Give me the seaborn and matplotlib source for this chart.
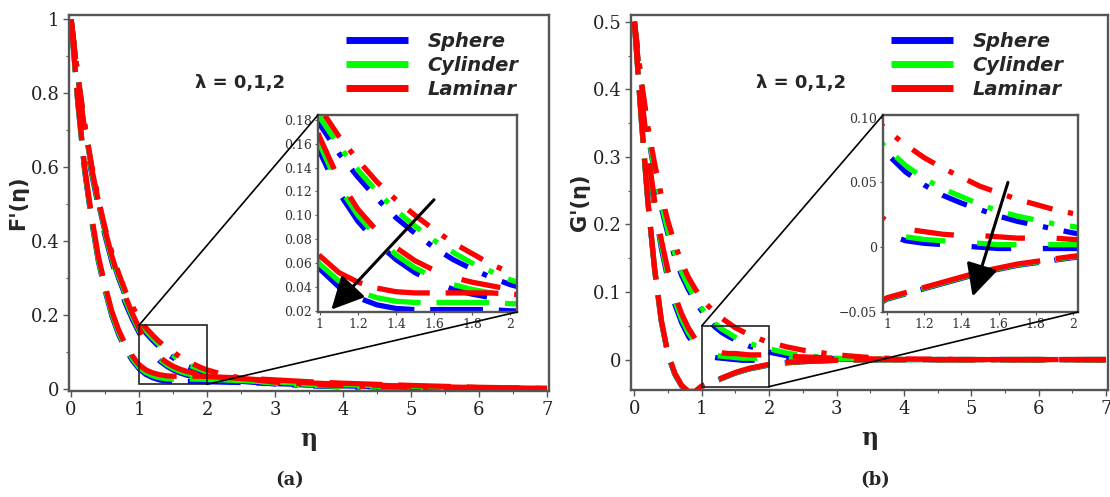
import matplotlib
matplotlib.use("Agg")
import matplotlib.pyplot as plt
import numpy as np
import pandas as pd
import seaborn as sns
from matplotlib.patches import Rectangle, ConnectionPatch
from matplotlib.lines import Line2D
from matplotlib.font_manager import FontProperties

# ---------------- data ----------------
eta = [0, 0.1, 0.2, 0.3, 0.4, 0.5, 0.6, 0.7, 0.8, 0.9, 1.0, 1.1, 1.2, 1.3, 1.4, 1.5,
       1.6, 1.7, 1.8, 1.9, 2.0, 2.25, 2.5, 3.0, 3.5, 4.0, 5.0, 6.0, 7.0]

models = ["Sphere", "Cylinder", "Laminar"]
lambdas = ["0", "1", "2"]

# panel (a): F'(eta)
Fp_sphere_lam0 = [1.0, 0.845, 0.712, 0.600, 0.505, 0.425, 0.357, 0.300, 0.252, 0.211, 0.176, 0.152, 0.132, 0.114, 0.098, 0.085, 0.073, 0.063, 0.055, 0.048, 0.042, 0.031, 0.023, 0.014, 0.009, 0.006, 0.003, 0.002, 0.001]
Fp_cylinder_lam0 = [1.0, 0.846, 0.714, 0.604, 0.510, 0.430, 0.363, 0.306, 0.258, 0.217, 0.182, 0.158, 0.138, 0.120, 0.104, 0.091, 0.079, 0.069, 0.060, 0.053, 0.046, 0.034, 0.026, 0.016, 0.011, 0.007, 0.004, 0.002, 0.001]
Fp_laminar_lam0 = [1.0, 0.847, 0.717, 0.608, 0.515, 0.436, 0.369, 0.313, 0.265, 0.225, 0.190, 0.166, 0.146, 0.128, 0.113, 0.100, 0.088, 0.077, 0.068, 0.059, 0.052, 0.039, 0.030, 0.019, 0.013, 0.009, 0.005, 0.003, 0.001]

Fp_sphere_lam1 = [1.0, 0.835, 0.690, 0.585, 0.495, 0.415, 0.345, 0.285, 0.232, 0.190, 0.153, 0.119, 0.095, 0.077, 0.063, 0.052, 0.044, 0.038, 0.034, 0.031, 0.029, 0.025, 0.021, 0.015, 0.011, 0.008, 0.004, 0.002, 0.001]
Fp_cylinder_lam1 = [1.0, 0.837, 0.695, 0.592, 0.502, 0.422, 0.352, 0.292, 0.240, 0.197, 0.159, 0.124, 0.100, 0.082, 0.067, 0.056, 0.048, 0.042, 0.038, 0.035, 0.033, 0.028, 0.024, 0.018, 0.013, 0.010, 0.006, 0.003, 0.001]
Fp_laminar_lam1 = [1.0, 0.840, 0.700, 0.600, 0.510, 0.430, 0.360, 0.300, 0.250, 0.205, 0.165, 0.130, 0.105, 0.087, 0.073, 0.062, 0.054, 0.048, 0.044, 0.041, 0.038, 0.033, 0.029, 0.022, 0.017, 0.013, 0.008, 0.004, 0.002]

Fp_sphere_lam2 = [1.0, 0.772, 0.590, 0.458, 0.347, 0.267, 0.198, 0.148, 0.108, 0.078, 0.055, 0.040, 0.031, 0.025, 0.022, 0.021, 0.021, 0.021, 0.021, 0.021, 0.020, 0.019, 0.018, 0.015, 0.012, 0.009, 0.005, 0.003, 0.001]
Fp_cylinder_lam2 = [1.0, 0.775, 0.595, 0.463, 0.352, 0.272, 0.203, 0.153, 0.113, 0.083, 0.059, 0.045, 0.036, 0.031, 0.028, 0.027, 0.027, 0.027, 0.027, 0.027, 0.026, 0.025, 0.023, 0.019, 0.015, 0.012, 0.007, 0.004, 0.001]
Fp_laminar_lam2 = [1.0, 0.780, 0.600, 0.470, 0.360, 0.280, 0.210, 0.160, 0.120, 0.090, 0.066, 0.052, 0.044, 0.039, 0.036, 0.035, 0.035, 0.035, 0.035, 0.035, 0.034, 0.032, 0.030, 0.025, 0.020, 0.016, 0.010, 0.005, 0.002]

# panel (b): G'(eta)
Gp_sphere_lam0 = [0.5, 0.410, 0.335, 0.275, 0.225, 0.185, 0.152, 0.125, 0.104, 0.087, 0.072, 0.058, 0.048, 0.040, 0.034, 0.029, 0.024, 0.020, 0.017, 0.014, 0.011, 0.006, 0.003, 0.001, 0.0, 0.0, 0.0, 0.0, 0.0]
Gp_cylinder_lam0 = [0.5, 0.412, 0.338, 0.279, 0.230, 0.190, 0.157, 0.130, 0.109, 0.091, 0.076, 0.063, 0.053, 0.045, 0.039, 0.033, 0.028, 0.024, 0.021, 0.018, 0.016, 0.010, 0.006, 0.002, 0.001, 0.0, 0.0, 0.0, 0.0]
Gp_laminar_lam0 = [0.5, 0.415, 0.345, 0.290, 0.243, 0.204, 0.171, 0.144, 0.122, 0.105, 0.090, 0.079, 0.069, 0.061, 0.054, 0.047, 0.042, 0.037, 0.033, 0.029, 0.026, 0.019, 0.014, 0.007, 0.003, 0.001, 0.0, 0.0, 0.0]

Gp_sphere_lam1 = [0.5, 0.390, 0.300, 0.225, 0.165, 0.118, 0.082, 0.055, 0.035, 0.020, 0.010, 0.005, 0.003, 0.002, 0.001, 0.0, -0.001, -0.001, -0.001, -0.001, -0.001, -0.001, -0.001, 0.0, 0.0, 0.0, 0.0, 0.0, 0.0]
Gp_cylinder_lam1 = [0.5, 0.392, 0.303, 0.229, 0.170, 0.123, 0.087, 0.060, 0.040, 0.025, 0.014, 0.008, 0.006, 0.005, 0.004, 0.003, 0.002, 0.002, 0.002, 0.002, 0.002, 0.001, 0.001, 0.0, 0.0, 0.0, 0.0, 0.0, 0.0]
Gp_laminar_lam1 = [0.5, 0.395, 0.307, 0.235, 0.177, 0.131, 0.095, 0.068, 0.047, 0.031, 0.020, 0.014, 0.012, 0.010, 0.009, 0.009, 0.008, 0.007, 0.007, 0.007, 0.006, 0.005, 0.004, 0.002, 0.001, 0.0, 0.0, 0.0, 0.0]

Gp_sphere_lam2 = [0.5, 0.358, 0.233, 0.133, 0.056, 0.006, -0.022, -0.039, -0.048, -0.048, -0.040, -0.036, -0.032, -0.028, -0.024, -0.020, -0.017, -0.014, -0.012, -0.010, -0.008, -0.005, -0.003, -0.001, 0.0, 0.0, 0.0, 0.0, 0.0]
Gp_cylinder_lam2 = [0.5, 0.359, 0.234, 0.134, 0.057, 0.007, -0.021, -0.0385, -0.0475, -0.0475, -0.0395, -0.0355, -0.0315, -0.0275, -0.0235, -0.0195, -0.0165, -0.0135, -0.0115, -0.0095, -0.0075, -0.0045, -0.003, -0.001, 0.0, 0.0, 0.0, 0.0, 0.0]
Gp_laminar_lam2 = [0.5, 0.360, 0.235, 0.135, 0.058, 0.008, -0.020, -0.038, -0.047, -0.047, -0.039, -0.035, -0.031, -0.027, -0.023, -0.019, -0.016, -0.013, -0.011, -0.009, -0.007, -0.004, -0.003, -0.001, 0.0, 0.0, 0.0, 0.0, 0.0]

main_xticks = [0, 1, 2, 3, 4, 5, 6, 7]
a_yticks = [0, 0.2, 0.4, 0.6, 0.8, 1.0]
a_yticklabels = ["0", "0.2", "0.4", "0.6", "0.8", "1"]
b_yticks = [0, 0.1, 0.2, 0.3, 0.4, 0.5]
b_yticklabels = ["0", "0.1", "0.2", "0.3", "0.4", "0.5"]
inset_xticks = [1, 1.2, 1.4, 1.6, 1.8, 2]
inset_xticklabels = ["1", "1.2", "1.4", "1.6", "1.8", "2"]
ia_yticks = [0.02, 0.04, 0.06, 0.08, 0.10, 0.12, 0.14, 0.16, 0.18]
ia_yticklabels = ["0.02", "0.04", "0.06", "0.08", "0.10", "0.12", "0.14", "0.16", "0.18"]
ib_yticks = [-0.05, 0, 0.05, 0.10]
ib_yticklabels = ["\u22120.05", "0", "0.05", "0.10"]

# ---------------- long-form table ----------------
series_a = {
    ("Sphere", "0"): Fp_sphere_lam0, ("Cylinder", "0"): Fp_cylinder_lam0, ("Laminar", "0"): Fp_laminar_lam0,
    ("Sphere", "1"): Fp_sphere_lam1, ("Cylinder", "1"): Fp_cylinder_lam1, ("Laminar", "1"): Fp_laminar_lam1,
    ("Sphere", "2"): Fp_sphere_lam2, ("Cylinder", "2"): Fp_cylinder_lam2, ("Laminar", "2"): Fp_laminar_lam2,
}
series_b = {
    ("Sphere", "0"): Gp_sphere_lam0, ("Cylinder", "0"): Gp_cylinder_lam0, ("Laminar", "0"): Gp_laminar_lam0,
    ("Sphere", "1"): Gp_sphere_lam1, ("Cylinder", "1"): Gp_cylinder_lam1, ("Laminar", "1"): Gp_laminar_lam1,
    ("Sphere", "2"): Gp_sphere_lam2, ("Cylinder", "2"): Gp_cylinder_lam2, ("Laminar", "2"): Gp_laminar_lam2,
}


def to_df(series):
    rows = []
    for (m, l), vals in series.items():
        for e, v in zip(eta, vals):
            rows.append({"eta": e, "val": v, "model": m, "lam": l})
    return pd.DataFrame(rows)


df_a = to_df(series_a)
df_b = to_df(series_b)

palette = {"Sphere": "#0000ff", "Cylinder": "#00ff00", "Laminar": "#ff0000"}
dash_map = {"0": (5.0, 3.0, 1.0, 3.0), "1": (7.5, 6.0), "2": (10.0, 3.0)}

# ---------------- style ----------------
sns.set_theme(style="ticks")
plt.rcParams["font.family"] = ["DejaVu Serif"]
spine_col = "#555555"
plt.rcParams["axes.edgecolor"] = spine_col
plt.rcParams["lines.solid_capstyle"] = "butt"
plt.rcParams["lines.dash_capstyle"] = "butt"

fig = plt.figure(figsize=(11.1, 4.97), dpi=100)
fig.patch.set_facecolor("white")

ax_a = fig.add_axes([0.0622, 0.2133, 0.4324, 0.7565])
ax_b = fig.add_axes([0.5685, 0.2153, 0.4297, 0.7545])
in_a = fig.add_axes([0.2865, 0.3722, 0.1793, 0.3964])
in_b = fig.add_axes([0.7955, 0.3722, 0.1757, 0.3964])

LW = 3.8


def draw(ax, df, lw):
    sns.lineplot(data=df, x="eta", y="val", hue="model", style="lam",
                 hue_order=models, style_order=lambdas, palette=palette,
                 dashes=dash_map, linewidth=lw, estimator=None, sort=False,
                 legend=False, ax=ax)
    ax.set_xlabel("")
    ax.set_ylabel("")


for ax in (ax_a, ax_b, in_a, in_b):
    for s in ax.spines.values():
        s.set_color(spine_col)
        s.set_linewidth(1.7)
    ax.set_facecolor("white")

draw(ax_a, df_a, LW)
draw(ax_b, df_b, LW)
draw(in_a, df_a, LW)
draw(in_b, df_b, LW)

# main axes
for ax, yt, ytl in ((ax_a, a_yticks, a_yticklabels), (ax_b, b_yticks, b_yticklabels)):
    ax.set_xticks(main_xticks)
    ax.set_xticklabels([str(t) for t in main_xticks])
    ax.set_yticks(yt)
    ax.set_yticklabels(ytl)
    ax.tick_params(axis="both", which="major", labelsize=13, length=4, width=1,
                   color=spine_col, labelcolor="#222222", pad=3)
    ax.tick_params(axis="both", which="minor", length=2.5, width=0.8, color=spine_col)
    ax.set_xlabel("\u03b7", fontsize=17, fontweight="bold", labelpad=6)

ax_a.set_xticks([0.5 + i for i in range(7)], minor=True)
ax_a.set_yticks([0.1, 0.3, 0.5, 0.7, 0.9], minor=True)
ax_b.set_xticks([0.5 + i for i in range(7)], minor=True)
ax_b.set_yticks([0.05, 0.15, 0.25, 0.35, 0.45], minor=True)

ax_a.set_xlim(-0.03, 7.03)
ax_a.set_ylim(-0.005, 1.012)
ax_b.set_xlim(-0.05, 7.03)
ax_b.set_ylim(-0.045, 0.51)

ax_a.set_ylabel("F'(\u03b7)", fontsize=15, fontweight="bold", family="DejaVu Sans", labelpad=2)
ax_b.set_ylabel("G'(\u03b7)", fontsize=15, fontweight="bold", family="DejaVu Sans", labelpad=2)

# insets
in_a.set_xlim(0.99, 2.037)
in_a.set_ylim(0.019, 0.184)
in_b.set_xlim(0.978, 2.027)
in_b.set_ylim(-0.05, 0.102)
for ax, yt, ytl in ((in_a, ia_yticks, ia_yticklabels), (in_b, ib_yticks, ib_yticklabels)):
    ax.set_xticks(inset_xticks)
    ax.set_xticklabels(inset_xticklabels)
    ax.set_yticks(yt)
    ax.set_yticklabels(ytl)
    ax.tick_params(axis="both", labelsize=9, length=2.5, width=0.8, color=spine_col,
                   labelcolor="#333333", pad=2)

# zoom rectangles and connectors
rect_a = Rectangle((1, 0.013), 1, 0.160, fill=False, edgecolor="#222222", lw=1.2, zorder=5)
ax_a.add_patch(rect_a)
rect_b = Rectangle((1, -0.04), 1, 0.09, fill=False, edgecolor="#222222", lw=1.2, zorder=5)
ax_b.add_patch(rect_b)

for ax, inset, tl, br in ((ax_a, in_a, (1, 0.173), (2, 0.013)), (ax_b, in_b, (1, 0.05), (2, -0.04))):
    c1 = ConnectionPatch(xyA=tl, coordsA=ax.transData, xyB=(0, 1), coordsB=inset.transAxes,
                         color="black", lw=1.2)
    c2 = ConnectionPatch(xyA=br, coordsA=ax.transData, xyB=(1, 0), coordsB=inset.transAxes,
                         color="black", lw=1.2)
    fig.add_artist(c1)
    fig.add_artist(c2)

# arrows in insets
arrow_props = dict(arrowstyle="-|>,head_length=0.9,head_width=0.45", lw=2.2, color="black",
                   mutation_scale=22, shrinkA=0, shrinkB=0)
in_a.annotate("", xy=(1.06, 0.021), xytext=(1.6, 0.113), arrowprops=arrow_props)
in_b.annotate("", xy=(1.46, -0.038), xytext=(1.65, 0.05), arrowprops=arrow_props)

# legends
leg_font = FontProperties(family="DejaVu Sans", weight="bold", style="italic", size=14)
handles = [Line2D([], [], color=palette[m], lw=5, solid_capstyle="butt") for m in models]
for x0 in (346 / 1110, 891 / 1110):
    fig.legend(handles, models, loc="upper left", bbox_to_anchor=(x0, 1 - 32 / 497),
               bbox_transform=fig.transFigure, frameon=False, prop=leg_font,
               handlelength=3.2, handletextpad=1.0, labelspacing=0.25,
               borderpad=0, borderaxespad=0)

# lambda labels
for xc in (240 / 1110, 801 / 1110):
    fig.text(xc, 1 - 83 / 497, "\u03bb = 0,1,2", ha="center", va="center", fontsize=13,
             fontweight="bold", family="DejaVu Sans")

# panel captions
fig.text(290 / 1110, 1 - 480 / 497, "(a)", ha="center", va="center", fontsize=13, fontweight="bold")
fig.text(875 / 1110, 1 - 480 / 497, "(b)", ha="center", va="center", fontsize=13, fontweight="bold")

fig.savefig("out.png", dpi=100, facecolor="white")
